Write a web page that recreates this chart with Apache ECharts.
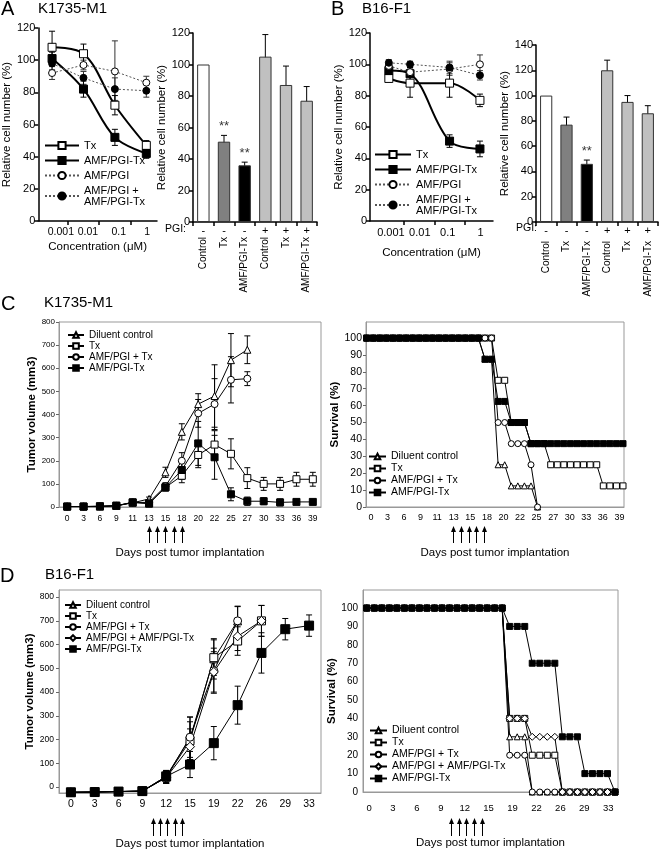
<!DOCTYPE html>
<html><head><meta charset="utf-8">
<script src="https://cdn.jsdelivr.net/npm/echarts@6/dist/echarts.min.js"></script>
<style>html,body{margin:0;padding:0;background:#fff}#c{width:661px;height:854px}</style>
</head><body><div id="c"></div>
<script>
// ================= DATA =================
// Panels A / B: dose response (relative cell number, %)
const concA = [0.001, 0.01, 0.1, 1];
const concB = [0.001, 0.005, 0.1, 1];
const concTickLabels = ['0.001', '0.01', '0.1', '1'];

const A_Tx = [108, 104, 72, 47];
const A_TxErr = [10, 6, 6, 3];
const A_AmfTx = [101, 82, 52, 42];
const A_AmfTxErr = [4, 5, 5, 3];
const A_Amf = [92, 97, 93, 86];
const A_AmfErr = [4, 3, 19, 4];
const A_AmfPlus = [98, 89, 82, 81];
const A_AmfPlusErr = [4, 4, 7, 4];

const B_Tx = [91, 88, 88, 77];
const B_TxErr = [2, 9, 9, 4];
const B_AmfTx = [96, 94, 51, 46];
const B_AmfTxErr = [3, 4, 4, 5];
const B_Amf = [99, 95, 97, 100];
const B_AmfErr = [3, 3, 4, 6];
const B_AmfPlus = [101, 100, 98, 93];
const B_AmfPlusErr = [2, 2, 4, 3];

// bar panels
const barCats = ['Control', 'Tx', 'AMF/PGI-Tx', 'Control', 'Tx', 'AMF/PGI-Tx'];
const barPGI = ['-', '-', '-', '+', '+', '+'];
const A_bar = [100, 51, 36, 105, 87, 77];
const A_barErr = [0, 4, 2, 14, 12, 9];
const A_barSig = ['', '**', '**', '', '', ''];
const B_bar = [100, 77, 46, 120, 95, 86];
const B_barErr = [0, 6, 3, 8, 5, 6];
const B_barSig = ['', '', '**', '', '', ''];

// Panel C: K1735-M1 tumor volume
const C_days = ['0','3','6','9','11','13','15','18','20','22','25','27','30','33','36','39'];
const C_diluent = [2, 2, 2, 5, 18, 35, 150, 325, 445, 480, 635, 680];
const C_diluentErr = [0, 0, 0, 3, 5, 8, 22, 35, 45, 135, 115, 60];
const C_tx = [2, 2, 3, 5, 20, 15, 85, 135, 225, 270, 230, 125, 100, 100, 120, 120];
const C_txErr = [0, 0, 0, 3, 5, 5, 15, 30, 55, 60, 65, 45, 28, 28, 30, 30];
const C_amfPlusTx = [2, 2, 3, 5, 20, 20, 90, 200, 405, 445, 550, 555];
const C_amfPlusTxErr = [0, 0, 0, 3, 5, 5, 15, 35, 60, 110, 100, 30];
const C_amfTx = [2, 2, 3, 6, 20, 15, 85, 160, 275, 215, 55, 25, 25, 20, 22, 22];
const C_amfTxErr = [0, 0, 0, 3, 5, 5, 15, 40, 95, 95, 28, 18, 15, 15, 8, 5];
const C_treat = [5, 5.5, 6, 6.5, 7]; // treatment arrows, in category units

// Panel C survival (%), one value per day
const survC_ticks = ['0','3','6','9','11','13','15','18','20','22','25','27','30','33','36','39'];
const survC_diluent = [100,100,100,100,100,100,100,100,100,100,100,100,100,100,100,100,100,100,87.5,87.5,25,25,12.5,12.5,12.5,12.5,0];
const survC_tx = [100,100,100,100,100,100,100,100,100,100,100,100,100,100,100,100,100,100,100,100,75,75,50,50,50,37.5,37.5,37.5,25,25,25,25,25,25,25,25,12.5,12.5,12.5,12.5];
const survC_amfPlusTx = [100,100,100,100,100,100,100,100,100,100,100,100,100,100,100,100,100,100,100,100,50,50,37.5,37.5,37.5,25,0];
const survC_amfTx = [100,100,100,100,100,100,100,100,100,100,100,100,100,100,100,100,100,100,87.5,87.5,62.5,62.5,50,50,50,37.5,37.5,37.5,37.5,37.5,37.5,37.5,37.5,37.5,37.5,37.5,37.5,37.5,37.5,37.5];
const survC_treat = [13.1, 14.3, 15.5, 16.7, 17.9];

// Panel D: B16-F1 tumor volume
const D_days = ['0','3','6','9','12','15','19','22','26','29','33'];
const D_diluent = [-22, -21, -19, -17, 45, 205, 540, 700];
const D_diluentErr = [0, 0, 0, 0, 25, 90, 85, 62];
const D_tx = [-22, -21, -19, -17, 42, 195, 545, 615, 700];
const D_txErr = [0, 0, 0, 0, 25, 80, 75, 60, 65];
const D_amfPlusTx = [-22, -21, -19, -17, 40, 210, 490, 700];
const D_amfPlusTxErr = [0, 0, 0, 0, 25, 85, 95, 60];
const D_amfPlusAmfTx = [-22, -21, -19, -17, 40, 170, 485, 635, 700];
const D_amfPlusAmfTxErr = [0, 0, 0, 0, 25, 75, 85, 60, 65];
const D_amfTx = [-22, -21, -19, -17, 45, 95, 185, 345, 565, 665, 680];
const D_amfTxErr = [0, 0, 0, 0, 25, 55, 70, 80, 85, 45, 45];
const D_treat = [3.45, 3.75, 4.05, 4.35, 4.65];

// Panel D survival (%)
const survD_ticks = ['0','3','6','9','12','15','19','22','26','29','33'];
const survD_diluent = [100,100,100,100,100,100,100,100,100,100,100,100,100,100,100,100,100,100,100,30,30,30,0,0,0,0,0,0,0,0,0,0,0,0];
const survD_tx = [100,100,100,100,100,100,100,100,100,100,100,100,100,100,100,100,100,100,100,40,40,40,20,20,20,20,0,0,0,0,0,0,0,0];
const survD_amfPlusTx = [100,100,100,100,100,100,100,100,100,100,100,100,100,100,100,100,100,100,100,20,20,20,0,0,0,0,0,0,0,0,0,0,0,0];
const survD_amfPlusAmfTx = [100,100,100,100,100,100,100,100,100,100,100,100,100,100,100,100,100,100,100,40,40,40,30,30,30,30,0,0,0,0,0,0,0,0];
const survD_amfTx = [100,100,100,100,100,100,100,100,100,100,100,100,100,100,100,100,100,100,100,90,90,90,70,70,70,70,30,30,30,10,10,10,10,0];
const survD_treat = [11.2, 12.2, 13.2, 14.3, 15.3];

// ================= LAYOUT / STYLE =================
const FONT = '"Liberation Sans", Arial, Helvetica, sans-serif';
const concTickPosA = [-2.72, -1.86, -0.88, 0.03];
const concTickPosB = [-2.93, -1.98, -1.06, 0.02];
const barColors = ['#ffffff', '#808080', '#000000', '#c0c0c0', '#c0c0c0', '#c0c0c0'];
const survCLabelPos = survC_ticks.map((t, i) => 0.65 + i * 2.52);
const survDLabelPos = survD_ticks.map((t, i) => 0.3 + i * 3.18);

const MK = {
  oSq: {symbol: 'rect', itemStyle: {color: '#fff', borderColor: '#000', borderWidth: 1}},
  fSq: {symbol: 'rect', itemStyle: {color: '#000', borderColor: '#000', borderWidth: 1}},
  oCi: {symbol: 'circle', itemStyle: {color: '#fff', borderColor: '#000', borderWidth: 1}},
  fCi: {symbol: 'circle', itemStyle: {color: '#000', borderColor: '#000', borderWidth: 1}},
  oTr: {symbol: 'triangle', itemStyle: {color: '#fff', borderColor: '#000', borderWidth: 1}},
  oDi: {symbol: 'diamond', itemStyle: {color: '#fff', borderColor: '#000', borderWidth: 1}}
};
const solid2 = {color: '#000', width: 2};
const solid1 = {color: '#000', width: 1};
const dotted = {color: '#555', width: 1, type: [2, 2]};

function line(name, xi, yi, data, mk, size, ls, smooth) {
  return {type: 'line', name, xAxisIndex: xi, yAxisIndex: yi, data,
    symbol: mk.symbol, symbolSize: size, itemStyle: mk.itemStyle, lineStyle: ls,
    smooth: smooth || false, showAllSymbol: true, clip: false, z: 3,
    emphasis: {disabled: true}, animation: false};
}
function pts(xs, ys) { return ys.map((v, i) => [xs[i], v]); }
function errBars(xi, yi, xs, vals, errs, cap, color) {
  const data = [];
  vals.forEach((v, i) => { if (v != null && errs[i] > 0) data.push([xs[i], v - errs[i], v + errs[i]]); });
  return {type: 'custom', xAxisIndex: xi, yAxisIndex: yi, data, z: 2, silent: true, animation: false,
    encode: {x: 0, y: [1, 2]},
    renderItem(params, api) {
      const x = api.value(0);
      const p1 = api.coord([x, api.value(1)]);
      const p2 = api.coord([x, api.value(2)]);
      const st = {stroke: color, lineWidth: 1};
      return {type: 'group', children: [
        {type: 'line', shape: {x1: p1[0], y1: p1[1], x2: p2[0], y2: p2[1]}, style: st},
        {type: 'line', shape: {x1: p1[0] - cap, y1: p1[1], x2: p1[0] + cap, y2: p1[1]}, style: st},
        {type: 'line', shape: {x1: p2[0] - cap, y1: p2[1], x2: p2[0] + cap, y2: p2[1]}, style: st}
      ]};
    }};
}
const idx = arr => arr.map((v, i) => i);
const lookupFmt = (pos, labels) => v => { const k = pos.findIndex(p => Math.abs(p - v) < 1e-6); return k >= 0 ? labels[k] : ''; };

// ----- axes -----
function doseX(gi, min, max, labelPos, nameGap, fs) {
  return {type: 'value', gridIndex: gi, min, max,
    axisLine: {show: true, onZero: false, lineStyle: {color: '#000', width: 1.5}},
    axisTick: {show: true, customValues: [-2.5, -1.5, -0.5], length: 4, lineStyle: {color: '#000', width: 1.5}},
    axisLabel: {customValues: labelPos, formatter: lookupFmt(labelPos, concTickLabels), fontSize: fs, color: '#000', margin: 6,
      showMinLabel: true, showMaxLabel: true, hideOverlap: false},
    splitLine: {show: false},
    name: 'Concentration (\u03bcM)', nameLocation: 'middle', nameGap, nameTextStyle: {fontSize: 11.5, color: '#000'}};
}
function pctY(gi, max, nameGap) {
  return {type: 'value', gridIndex: gi, min: 0, max, interval: 20,
    axisLine: {show: true, onZero: false, lineStyle: {color: '#000', width: 1.5}},
    axisTick: {show: true, length: 4, lineStyle: {color: '#000', width: 1.5}},
    axisLabel: {fontSize: 11, color: '#000', margin: 3},
    splitLine: {show: false},
    name: 'Relative cell number (%)', nameLocation: 'middle', nameGap, nameTextStyle: {fontSize: 11.5, color: '#000'}};
}
function signX(gi) {
  return {type: 'category', gridIndex: gi, data: barPGI,
    axisLine: {show: true, lineStyle: {color: '#000', width: 1.5}},
    axisTick: {show: true, length: 4, lineStyle: {color: '#000', width: 1.5}},
    axisLabel: {fontSize: 11, color: '#000', margin: 3, interval: 0}};
}
function namesX(gi, margin) {
  return {type: 'category', gridIndex: gi, data: barCats, position: 'bottom',
    axisLine: {show: false}, axisTick: {show: false},
    axisLabel: {rotate: 90, fontSize: 10, color: '#000', margin, interval: 0}};
}
const greyLine = {show: true, onZero: false, lineStyle: {color: '#999', width: 1}};
const daysName = {name: 'Days post tumor implantation', nameLocation: 'middle', nameTextStyle: {fontSize: 11.5, color: '#000'}};

const option = {
  animation: false,
  backgroundColor: '#fff',
  textStyle: {fontFamily: FONT, color: '#000'},
  grid: [
    {left: 36, top: 28, width: 121, height: 193},
    {left: 193, top: 33, width: 124, height: 189},
    {left: 370, top: 33, width: 123, height: 188},
    {left: 536, top: 45, width: 122, height: 177},
    {left: 59, top: 322, width: 262, height: 185, show: true, borderColor: '#999', borderWidth: 1},
    {left: 366, top: 322, width: 258, height: 185, show: true, borderColor: '#999', borderWidth: 1},
    {left: 59, top: 590, width: 262, height: 203, show: true, borderColor: '#999', borderWidth: 1},
    {left: 363, top: 590, width: 255, height: 202, show: true, borderColor: '#999', borderWidth: 1}
  ],
  xAxis: [
    doseX(0, -3.44, 0.34, concTickPosA, 20, 10.5),
    signX(1), namesX(1, 15),
    doseX(2, -3.62, 0.43, concTickPosB, 26, 11),
    signX(3), namesX(3, 19),
    Object.assign({type: 'category', gridIndex: 4, data: C_days, axisLine: greyLine, axisTick: {show: false},
      axisLabel: {fontSize: 8.5, color: '#000', margin: 7, interval: 0}, nameGap: 40}, daysName),
    Object.assign({type: 'value', gridIndex: 5, min: -0.1, max: 39.15, axisLine: greyLine, axisTick: {show: false}, splitLine: {show: false},
      axisLabel: {customValues: survCLabelPos, formatter: lookupFmt(survCLabelPos, survC_ticks), fontSize: 9, color: '#000', margin: 6, showMinLabel: true}, nameGap: 40}, daysName),
    Object.assign({type: 'category', gridIndex: 6, data: D_days, axisLine: greyLine, axisTick: {show: false},
      axisLabel: {fontSize: 10.5, color: '#000', margin: 6, interval: 0}, nameGap: 45}, daysName),
    Object.assign({type: 'value', gridIndex: 7, min: -0.5, max: 33.4, axisLine: greyLine, axisTick: {show: false}, splitLine: {show: false},
      axisLabel: {customValues: survDLabelPos, formatter: lookupFmt(survDLabelPos, survD_ticks), fontSize: 9.5, color: '#000', margin: 11, showMinLabel: true}, nameGap: 45}, daysName)
  ],
  yAxis: [
    pctY(0, 120, 19),
    pctY(1, 120, 16),
    pctY(2, 120, 23),
    pctY(3, 140, 24),
    {type: 'value', gridIndex: 4, min: 0, max: 800, interval: 100, axisLine: greyLine,
      axisTick: {show: true, length: 3, lineStyle: {color: '#666'}}, splitLine: {show: false},
      axisLabel: {fontSize: 8, color: '#000', margin: 4},
      name: 'Tumor volume (mm3)', nameLocation: 'middle', nameGap: 21, nameTextStyle: {fontSize: 11.5, fontWeight: 'bold', color: '#000'}},
    {type: 'value', gridIndex: 5, min: 0, max: 109.5, axisLine: greyLine,
      axisTick: {show: true, length: 3, customValues: [0,10,20,30,40,50,60,70,80,90,100], lineStyle: {color: '#666'}}, splitLine: {show: false},
      axisLabel: {customValues: [0,10,20,30,40,50,60,70,80,90,100], fontSize: 10.5, color: '#000', margin: 4},
      name: 'Survival (%)', nameLocation: 'middle', nameGap: 21, nameTextStyle: {fontSize: 11.5, fontWeight: 'bold', color: '#000'}},
    {type: 'value', gridIndex: 6, min: -25, max: 830, axisLine: greyLine,
      axisTick: {show: true, length: 3, customValues: [0,100,200,300,400,500,600,700,800], lineStyle: {color: '#666'}}, splitLine: {show: false},
      axisLabel: {customValues: [0,100,200,300,400,500,600,700,800], fontSize: 8.5, color: '#000', margin: 5},
      name: 'Tumor volume (mm3)', nameLocation: 'middle', nameGap: 22, nameTextStyle: {fontSize: 11.5, fontWeight: 'bold', color: '#000'}},
    {type: 'value', gridIndex: 7, min: 0, max: 109.8, axisLine: greyLine,
      axisTick: {show: false}, splitLine: {show: false},
      axisLabel: {customValues: [0,10,20,30,40,50,60,70,80,90,100], fontSize: 10, color: '#000', margin: 5},
      name: 'Survival (%)', nameLocation: 'middle', nameGap: 19, nameTextStyle: {fontSize: 11.5, fontWeight: 'bold', color: '#000'}}
  ],
  legend: [],
  series: []
};

const S = option.series;
const stripName = n => n.slice(n.indexOf('|') + 1);
function addLegend(names, left, top, iw, ih, gap, fs) {
  option.legend.push({orient: 'vertical', left, top, padding: 0, itemWidth: iw, itemHeight: ih, itemGap: gap,
    selectedMode: false, formatter: stripName, textStyle: {fontSize: fs, color: '#000', fontFamily: FONT},
    data: names});
}

// ---- Panel A left ----
const xA = concA.map(c => Math.log10(c));
S.push(errBars(0, 0, xA, A_Amf, A_AmfErr, 3, '#333'));
S.push(errBars(0, 0, xA, A_AmfPlus, A_AmfPlusErr, 3, '#333'));
S.push(errBars(0, 0, xA, A_Tx, A_TxErr, 3, '#000'));
S.push(errBars(0, 0, xA, A_AmfTx, A_AmfTxErr, 3, '#000'));
S.push(line('A|Tx', 0, 0, pts(xA, A_Tx), MK.oSq, 8, solid2, 0.35));
S.push(line('A|AMF/PGI-Tx', 0, 0, pts(xA, A_AmfTx), MK.fSq, 8, solid2, 0.35));
S.push(line('A|AMF/PGI', 0, 0, pts(xA, A_Amf), MK.oCi, 7, dotted));
S.push(line('A|AMF/PGI +\nAMF/PGI-Tx', 0, 0, pts(xA, A_AmfPlus), MK.fCi, 7, dotted));
addLegend(['A|Tx', 'A|AMF/PGI-Tx', 'A|AMF/PGI', 'A|AMF/PGI +\nAMF/PGI-Tx'], 44, 140, 34, 9, 4, 11);

// ---- Panel B left ----
const xB = concB.map(c => Math.log10(c));
const bx = 3, by = 2;
S.push(errBars(bx, by, xB, B_Amf, B_AmfErr, 3, '#333'));
S.push(errBars(bx, by, xB, B_AmfPlus, B_AmfPlusErr, 3, '#333'));
S.push(errBars(bx, by, xB, B_Tx, B_TxErr, 3, '#000'));
S.push(errBars(bx, by, xB, B_AmfTx, B_AmfTxErr, 3, '#000'));
S.push(line('B|Tx', bx, by, pts(xB, B_Tx), MK.oSq, 8, solid2, 0.35));
S.push(line('B|AMF/PGI-Tx', bx, by, pts(xB, B_AmfTx), MK.fSq, 8, solid2, 0.35));
S.push(line('B|AMF/PGI', bx, by, pts(xB, B_Amf), MK.oCi, 7, dotted));
S.push(line('B|AMF/PGI +\nAMF/PGI-Tx', bx, by, pts(xB, B_AmfPlus), MK.fCi, 7, dotted));
addLegend(['B|Tx', 'B|AMF/PGI-Tx', 'B|AMF/PGI', 'B|AMF/PGI +\nAMF/PGI-Tx'], 374, 149, 36, 9, 4, 11);

// ---- bar panels ----
function barPanel(xi, yi, vals, errs, sig) {
  S.push({type: 'bar', xAxisIndex: xi, yAxisIndex: yi, barWidth: '60%', animation: false, silent: true,
    data: vals.map((v, i) => ({value: v, itemStyle: {color: barColors[i], borderColor: '#333', borderWidth: 1}}))});
  S.push(errBars(xi, yi, idx(vals), vals, errs, 3, '#000'));
  S.push({type: 'scatter', xAxisIndex: xi, yAxisIndex: yi, symbolSize: 0, silent: true, animation: false,
    label: {show: true, position: 'top', distance: 2, fontSize: 13, color: '#000', formatter: p => p.data.sig},
    data: vals.map((v, i) => ({value: [i, v + errs[i]], sig: sig[i]})).filter(d => d.sig)});
}
barPanel(1, 1, A_bar, A_barErr, A_barSig);
barPanel(4, 3, B_bar, B_barErr, B_barSig);

// ---- Panel C tumor volume ----
const cx = 6, cy = 4;
S.push(errBars(cx, cy, idx(C_diluent), C_diluent, C_diluentErr, 3, '#000'));
S.push(errBars(cx, cy, idx(C_tx), C_tx, C_txErr, 3, '#000'));
S.push(errBars(cx, cy, idx(C_amfPlusTx), C_amfPlusTx, C_amfPlusTxErr, 3, '#000'));
S.push(errBars(cx, cy, idx(C_amfTx), C_amfTx, C_amfTxErr, 3, '#000'));
S.push(line('C|Diluent control', cx, cy, C_diluent, MK.oTr, 7, solid1));
S.push(line('C|Tx', cx, cy, C_tx, MK.oSq, 7, solid1));
S.push(line('C|AMF/PGI + Tx', cx, cy, C_amfPlusTx, MK.oCi, 7, solid1));
S.push(line('C|AMF/PGI-Tx', cx, cy, C_amfTx, MK.fSq, 7, solid1));
addLegend(['C|Diluent control', 'C|Tx', 'C|AMF/PGI + Tx', 'C|AMF/PGI-Tx'], 67, 330, 16, 7, 1, 10);

// ---- Panel C survival ----
S.push(line('CS|Diluent control', 7, 5, pts(idx(survC_diluent), survC_diluent), MK.oTr, 6, solid1));
S.push(line('CS|Tx', 7, 5, pts(idx(survC_tx), survC_tx), MK.oSq, 6, solid1));
S.push(line('CS|AMF/PGI + Tx', 7, 5, pts(idx(survC_amfPlusTx), survC_amfPlusTx), MK.oCi, 6, solid1));
S.push(line('CS|AMF/PGI-Tx', 7, 5, pts(idx(survC_amfTx), survC_amfTx), MK.fSq, 6, solid1));
addLegend(['CS|Diluent control', 'CS|Tx', 'CS|AMF/PGI + Tx', 'CS|AMF/PGI-Tx'], 368, 451, 17, 7, 1, 10.5);

// ---- Panel D tumor volume ----
const dx = 8, dy = 6;
S.push(errBars(dx, dy, idx(D_diluent), D_diluent, D_diluentErr, 3, '#000'));
S.push(errBars(dx, dy, idx(D_tx), D_tx, D_txErr, 3, '#000'));
S.push(errBars(dx, dy, idx(D_amfPlusTx), D_amfPlusTx, D_amfPlusTxErr, 3, '#000'));
S.push(errBars(dx, dy, idx(D_amfPlusAmfTx), D_amfPlusAmfTx, D_amfPlusAmfTxErr, 3, '#000'));
S.push(errBars(dx, dy, idx(D_amfTx), D_amfTx, D_amfTxErr, 3, '#000'));
S.push(line('D|Diluent control', dx, dy, D_diluent, MK.oTr, 8, solid1));
S.push(line('D|Tx', dx, dy, D_tx, MK.oSq, 8, solid1));
S.push(line('D|AMF/PGI + Tx', dx, dy, D_amfPlusTx, MK.oCi, 8, solid1));
S.push(line('D|AMF/PGI + AMF/PGI-Tx', dx, dy, D_amfPlusAmfTx, MK.oDi, 9, solid1));
S.push(line('D|AMF/PGI-Tx', dx, dy, D_amfTx, MK.fSq, 9, solid1));
addLegend(['D|Diluent control', 'D|Tx', 'D|AMF/PGI + Tx', 'D|AMF/PGI + AMF/PGI-Tx', 'D|AMF/PGI-Tx'], 64, 600, 16, 7, 1, 10);

// ---- Panel D survival ----
S.push(line('DS|Diluent control', 9, 7, pts(idx(survD_diluent), survD_diluent), MK.oTr, 6, solid1));
S.push(line('DS|Tx', 9, 7, pts(idx(survD_tx), survD_tx), MK.oSq, 6, solid1));
S.push(line('DS|AMF/PGI + Tx', 9, 7, pts(idx(survD_amfPlusTx), survD_amfPlusTx), MK.oCi, 6, solid1));
S.push(line('DS|AMF/PGI + AMF/PGI-Tx', 9, 7, pts(idx(survD_amfPlusAmfTx), survD_amfPlusAmfTx), MK.oDi, 7, solid1));
S.push(line('DS|AMF/PGI-Tx', 9, 7, pts(idx(survD_amfTx), survD_amfTx), MK.fSq, 6, solid1));
addLegend(['DS|Diluent control', 'DS|Tx', 'DS|AMF/PGI + Tx', 'DS|AMF/PGI + AMF/PGI-Tx', 'DS|AMF/PGI-Tx'], 369, 725, 17, 7, 1, 10.5);

const chart = echarts.init(document.getElementById('c'), null, {renderer: 'canvas', width: 661, height: 854});
chart.setOption(option);

// ---- annotations (titles, PGI row label, treatment arrows) ----
function txt(text, x, y, size) {
  return {type: 'text', x, y, style: {text, fill: '#000', font: size + 'px ' + FONT, textVerticalAlign: 'top'}, silent: true};
}
function catPx(axisIndex, p) {
  const f = Math.floor(p);
  const a = chart.convertToPixel({xAxisIndex: axisIndex}, f);
  const b = chart.convertToPixel({xAxisIndex: axisIndex}, f + 1);
  return a + (p - f) * (b - a);
}
function arrows(axisIndex, positions, isCat, yTop, yBot) {
  return positions.map(p => {
    const x = Math.round(isCat ? catPx(axisIndex, p) : chart.convertToPixel({xAxisIndex: axisIndex}, p)) + 0.5;
    return {type: 'group', silent: true, children: [
      {type: 'line', shape: {x1: x, y1: yTop + 4, x2: x, y2: yBot}, style: {stroke: '#000', lineWidth: 1}},
      {type: 'polygon', shape: {points: [[x, yTop], [x - 2.5, yTop + 6], [x + 2.5, yTop + 6]]}, style: {fill: '#000'}}
    ]};
  });
}
const graphics = [
  txt('A', 1, -1, 20), txt('K1735-M1', 38, 1, 15),
  txt('B', 331, -1, 20), txt('B16-F1', 362, 1, 15),
  txt('C', 1, 294, 20), txt('K1735-M1', 44, 295, 15),
  txt('D', 0, 566, 20), txt('B16-F1', 45, 567, 15),
  txt('PGI:', 165, 224, 10.5), txt('PGI:', 516, 223, 10.5)
].concat(
  arrows(6, C_treat, true, 526, 543),
  arrows(7, survC_treat, false, 526, 543),
  arrows(8, D_treat, true, 818, 836),
  arrows(9, survD_treat, false, 818, 836)
);
chart.setOption({graphic: graphics});
</script></body></html>
